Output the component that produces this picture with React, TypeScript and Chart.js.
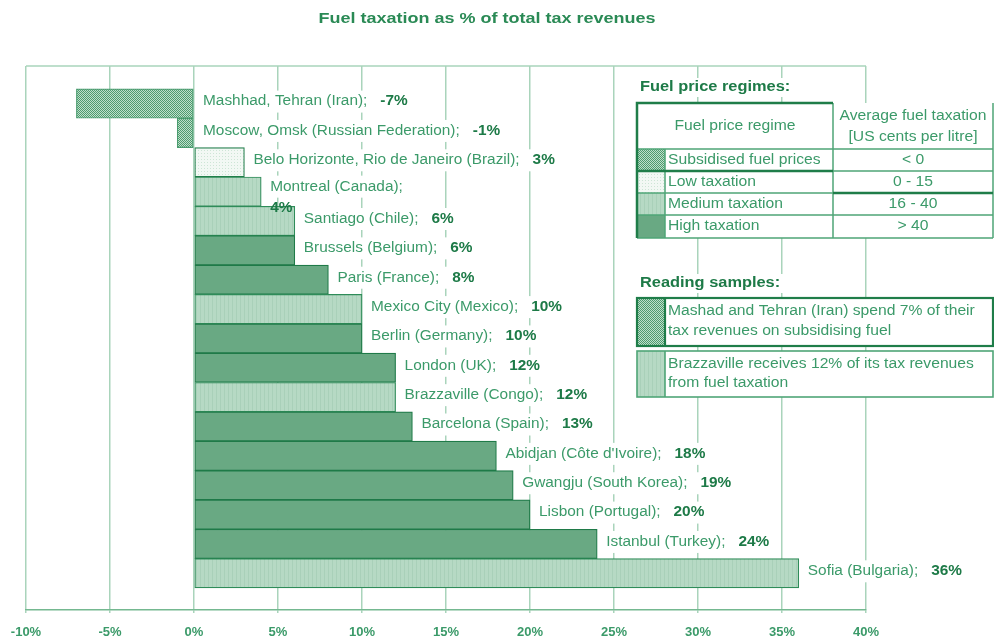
import React, { useEffect, useRef } from "react";
import { Chart, registerables } from "chart.js";

Chart.register(...registerables);

// ---------------- data ----------------
const cities = [
  "Mashhad, Tehran (Iran)",
  "Moscow, Omsk (Russian Federation)",
  "Belo Horizonte, Rio de Janeiro (Brazil)",
  "Montreal (Canada)",
  "Santiago (Chile)",
  "Brussels (Belgium)",
  "Paris (France)",
  "Mexico City (Mexico)",
  "Berlin (Germany)",
  "London (UK)",
  "Brazzaville (Congo)",
  "Barcelona (Spain)",
  "Abidjan (Côte d'Ivoire)",
  "Gwangju (South Korea)",
  "Lisbon (Portugal)",
  "Istanbul (Turkey)",
  "Sofia (Bulgaria)",
];
const shares = [-7, -1, 3, 4, 6, 6, 8, 10, 10, 12, 12, 13, 18, 19, 20, 24, 36];
const regimes = [
  "subsidised", "subsidised", "low", "medium", "medium", "high", "high", "medium",
  "high", "high", "medium", "high", "high", "high", "high", "high", "medium",
];
const wrappedLabels = ["Montreal (Canada)"];

const xMin = -10;
const xMax = 40;
const xStep = 5;

const chartTitle = "Fuel taxation as % of total tax revenues";
const legendTitle = "Fuel price regimes:";
const tableHeaderLeft = "Fuel price regime";
const tableHeaderRight = ["Average fuel taxation", "[US cents per litre]"];
const regimeKeys = ["subsidised", "low", "medium", "high"];
const regimeNames = ["Subsidised fuel prices", "Low taxation", "Medium taxation", "High taxation"];
const regimeRanges = ["< 0", "0 - 15", "16 - 40", "> 40"];
const samplesTitle = "Reading samples:";
const sampleRegimes = ["subsidised", "medium"];
const sampleTexts = [
  ["Mashad and Tehran (Iran) spend 7% of their", "tax revenues on subsidising fuel"],
  ["Brazzaville receives 12% of its tax revenues", "from fuel taxation"],
];

// ---------------- styles ----------------
const FONT = '"Liberation Sans", Arial, Helvetica, sans-serif';
const TEXT_GREEN = "#3b9a69";
const TEXT_DARK = "#1d7a47";
const GRID = "#a9d4bb";
const LINE_DARK = "#1f7d49";
const LINE_MID = "#4fa577";

const borders: Record<string, string> = {
  subsidised: "#4a9c6f",
  low: "#1f7d49",
  medium: "#2f8c59",
  high: "#1f7a48",
};

function makeFills(ctx: CanvasRenderingContext2D) {
  const mk = (w: number, h: number, draw: (c: CanvasRenderingContext2D) => void) => {
    const c = document.createElement("canvas");
    c.width = w;
    c.height = h;
    const g = c.getContext("2d")!;
    draw(g);
    return ctx.createPattern(c, "repeat")!;
  };
  const subsidised = mk(2, 2, (g) => {
    g.fillStyle = "#bfe0cb";
    g.fillRect(0, 0, 2, 2);
    g.fillStyle = "#4e9a6f";
    g.fillRect(0, 0, 1, 1);
    g.fillRect(1, 1, 1, 1);
  });
  const low = mk(3, 3, (g) => {
    g.fillStyle = "#f2f8f4";
    g.fillRect(0, 0, 3, 3);
    g.fillStyle = "#cde5d6";
    g.fillRect(0, 0, 1, 1);
  });
  const medium = mk(4, 1, (g) => {
    g.fillStyle = "#b6d9c4";
    g.fillRect(0, 0, 4, 1);
    g.fillStyle = "#a9d0b9";
    g.fillRect(0, 0, 1, 1);
  });
  const high = "#69a983";
  return { subsidised, low, medium, high } as Record<string, any>;
}

type TOpts = { size?: number; bold?: boolean; color?: string; align?: "left" | "center"; sx?: number };
function drawText(ctx: CanvasRenderingContext2D, s: string, x: number, y: number, o: TOpts = {}) {
  const size = o.size ?? 14;
  const sx = o.sx ?? 1.1;
  ctx.save();
  ctx.font = `${o.bold ? "bold " : ""}${size}px ${FONT}`;
  const w = ctx.measureText(s).width * sx;
  const left = o.align === "center" ? x - w / 2 : x;
  ctx.translate(left, y);
  ctx.scale(sx, 1);
  ctx.fillStyle = o.color ?? TEXT_GREEN;
  ctx.textAlign = "left";
  ctx.textBaseline = "middle";
  ctx.fillText(s, 0, 0);
  ctx.restore();
  return w;
}
function measure(ctx: CanvasRenderingContext2D, s: string, size: number, bold: boolean, sx: number) {
  ctx.save();
  ctx.font = `${bold ? "bold " : ""}${size}px ${FONT}`;
  const w = ctx.measureText(s).width * sx;
  ctx.restore();
  return w;
}

export default function App() {
  const ref = useRef<HTMLCanvasElement>(null);

  useEffect(() => {
    const canvas = ref.current!;
    const ctx0 = canvas.getContext("2d")!;
    const fills = makeFills(ctx0);

    const topBorder = {
      id: "topBorder",
      beforeDatasetsDraw(chart: any) {
        const { ctx, chartArea } = chart;
        ctx.save();
        ctx.strokeStyle = GRID;
        ctx.lineWidth = 1.5;
        ctx.beginPath();
        ctx.moveTo(chartArea.left, chartArea.top);
        ctx.lineTo(chartArea.right, chartArea.top);
        ctx.stroke();
        ctx.restore();
      },
    };

    const barLabels = {
      id: "barLabels",
      afterDatasetsDraw(chart: any) {
        const ctx: CanvasRenderingContext2D = chart.ctx;
        const xs = chart.scales.x;
        const meta = chart.getDatasetMeta(0);
        meta.data.forEach((bar: any, i: number) => {
          const v = shares[i];
          const x0 = xs.getPixelForValue(Math.max(v, 0)) + 9;
          const y = bar.y - 2;
          const name = cities[i] + ";";
          const val = `${v}%`;
          const wN = measure(ctx, name, 14, false, 1.1);
          const wV = measure(ctx, val, 14, true, 1.1);
          const gap = 13;
          ctx.save();
          ctx.fillStyle = "#ffffff";
          if (wrappedLabels.includes(cities[i])) {
            ctx.fillRect(x0 - 3, y - 3 - 11, wN + 6, 22);
            ctx.restore();
            drawText(ctx, name, x0, y - 3, { size: 14 });
            drawText(ctx, val, x0, y + 18, { size: 14, bold: true, color: TEXT_DARK });
          } else {
            ctx.fillRect(x0 - 3, y - 11, wN + gap + wV + 6, 22);
            ctx.restore();
            drawText(ctx, name, x0, y, { size: 14 });
            drawText(ctx, val, x0 + wN + gap, y, { size: 14, bold: true, color: TEXT_DARK });
          }
        });
      },
    };

    const decorations = {
      id: "decorations",
      afterDraw(chart: any) {
        const ctx: CanvasRenderingContext2D = chart.ctx;
        // title
        drawText(ctx, chartTitle, 487, 19, { size: 15, bold: true, color: "#2a8a55", align: "center", sx: 1.2 });

        const X0 = 637, XS = 665, XC = 833, X1 = 993;
        // legend title
        const wT = measure(ctx, legendTitle, 14, true, 1.17);
        ctx.fillStyle = "#fff";
        ctx.fillRect(X0, 78, wT + 8, 19);
        drawText(ctx, legendTitle, 640, 87, { size: 14, bold: true, color: TEXT_DARK, sx: 1.17 });

        // table
        const rows = [149, 171, 193, 215, 238];
        const T0 = 103;
        ctx.fillStyle = "#fff";
        ctx.fillRect(X0, T0, X1 - X0, rows[4] - T0);
        regimeKeys.forEach((k, r) => {
          ctx.fillStyle = fills[k];
          ctx.fillRect(X0, rows[r], XS - X0, rows[r + 1] - rows[r]);
        });
        ctx.save();
        ctx.strokeStyle = LINE_MID;
        ctx.lineWidth = 1.5;
        ctx.beginPath();
        rows.forEach((yy) => {
          ctx.moveTo(X0, yy);
          ctx.lineTo(X1, yy);
        });
        ctx.moveTo(XS, rows[0]);
        ctx.lineTo(XS, rows[4]);
        ctx.moveTo(XC, T0);
        ctx.lineTo(XC, rows[4]);
        ctx.moveTo(X1, T0);
        ctx.lineTo(X1, rows[4]);
        ctx.stroke();
        ctx.strokeStyle = LINE_DARK;
        ctx.lineWidth = 2.5;
        ctx.beginPath();
        ctx.moveTo(X0, rows[4]);
        ctx.lineTo(X0, T0);
        ctx.lineTo(XC, T0);
        ctx.moveTo(X0, rows[1]);
        ctx.lineTo(XC, rows[1]);
        ctx.moveTo(XC, rows[2]);
        ctx.lineTo(X1, rows[2]);
        ctx.stroke();
        ctx.restore();
        drawText(ctx, tableHeaderLeft, (X0 + XC) / 2, 126, { size: 14, align: "center", sx: 1.12 });
        drawText(ctx, tableHeaderRight[0], (XC + X1) / 2, 116, { size: 14, align: "center", sx: 1.12 });
        drawText(ctx, tableHeaderRight[1], (XC + X1) / 2, 137, { size: 14, align: "center", sx: 1.12 });
        regimeNames.forEach((n, r) => {
          const cy = (rows[r] + rows[r + 1]) / 2;
          drawText(ctx, n, XS + 3, cy, { size: 14, sx: 1.12 });
          drawText(ctx, regimeRanges[r], (XC + X1) / 2, cy, { size: 14, align: "center", sx: 1.12 });
        });

        // reading samples
        const wS = measure(ctx, samplesTitle, 14, true, 1.17);
        ctx.fillStyle = "#fff";
        ctx.fillRect(X0, 274, wS + 8, 19);
        drawText(ctx, samplesTitle, 640, 283, { size: 14, bold: true, color: TEXT_DARK, sx: 1.17 });
        const boxes = [
          [298, 346],
          [351, 397],
        ];
        boxes.forEach(([b0, b1], k) => {
          ctx.fillStyle = "#fff";
          ctx.fillRect(X0, b0, X1 - X0, b1 - b0);
          ctx.fillStyle = fills[sampleRegimes[k]];
          ctx.fillRect(X0, b0, XS - X0, b1 - b0);
          ctx.save();
          ctx.strokeStyle = k === 0 ? LINE_DARK : LINE_MID;
          ctx.lineWidth = k === 0 ? 2.2 : 1.6;
          ctx.strokeRect(X0, b0, X1 - X0, b1 - b0);
          ctx.beginPath();
          ctx.moveTo(XS, b0);
          ctx.lineTo(XS, b1);
          ctx.stroke();
          ctx.restore();
          const h = b1 - b0;
          drawText(ctx, sampleTexts[k][0], XS + 3, b0 + h * 0.28, { size: 14, sx: 1.12 });
          drawText(ctx, sampleTexts[k][1], XS + 3, b0 + h * 0.7, { size: 14, sx: 1.12 });
        });
      },
    };

    const chart = new Chart(canvas, {
      type: "bar",
      data: {
        datasets: [
          {
            data: shares.map((v, i) => ({ x: v, y: i })),
            backgroundColor: regimes.map((r) => fills[r]),
            borderColor: regimes.map((r) => borders[r]),
            borderWidth: 1.2,
            borderSkipped: false,
            barPercentage: 1,
            categoryPercentage: 1,
          } as any,
        ],
      },
      options: {
        indexAxis: "y",
        responsive: false,
        animation: false,
        events: [],
        layout: { padding: { left: 26, right: 128, top: 66, bottom: 0 } },
        plugins: {
          legend: { display: false },
          title: { display: false },
          tooltip: { enabled: false },
        },
        scales: {
          x: {
            type: "linear",
            position: "bottom",
            min: xMin,
            max: xMax,
            ticks: {
              stepSize: xStep,
              callback: (v: any) => `${v}%`,
              color: TEXT_GREEN,
              font: { family: FONT, size: 13, weight: "bold", lineHeight: 0.8 },
              padding: 14,
            },
            grid: { color: GRID, lineWidth: 1.5, tickLength: 3 },
            border: { color: "#74b890", width: 1.5 },
            afterFit: (s: any) => {
              s.height = 27;
              s.paddingLeft = 0;
              s.paddingRight = 0;
            },
          },
          y: {
            type: "linear",
            display: false,
            offset: false,
            reverse: true,
            min: -1.28,
            max: 17.25,
            grid: { offset: false },
            afterBuildTicks: (s: any) => {
              s.ticks = [{ value: s.min }, { value: s.max }];
            },
          },
        },
      } as any,
      plugins: [topBorder, barLabels, decorations],
    });
    return () => chart.destroy();
  }, []);

  return (
    <div style={{ position: "absolute", left: 0, top: 0, width: 994, height: 637, background: "#fff" }}>
      <canvas ref={ref} width={994} height={637} style={{ width: 994, height: 637, display: "block" }} />
    </div>
  );
}
